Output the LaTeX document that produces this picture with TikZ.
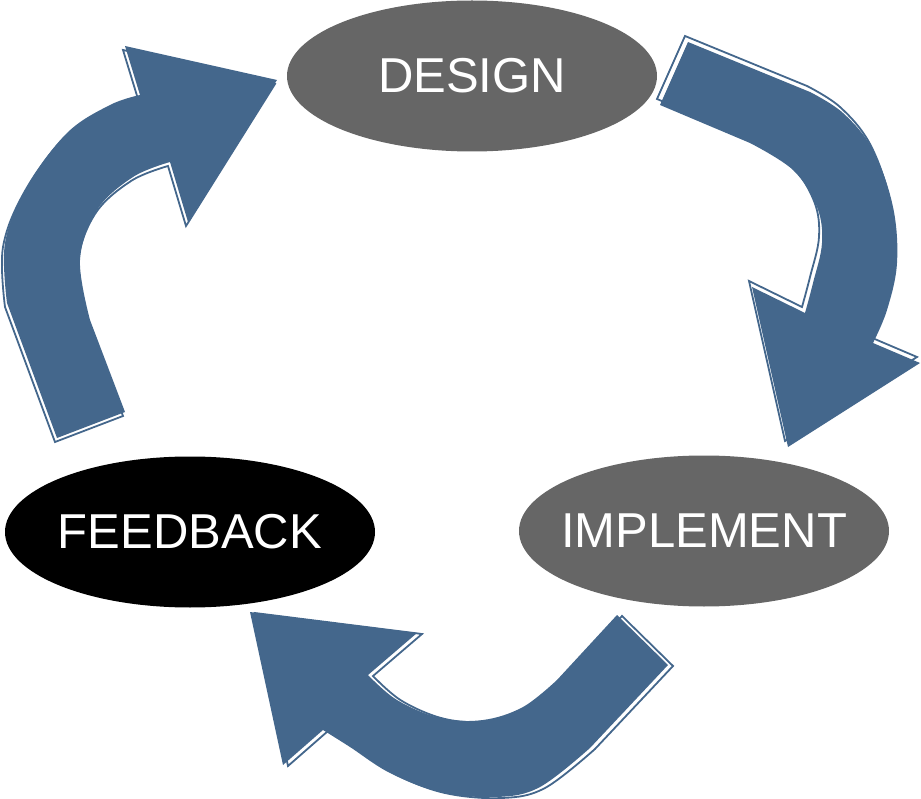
\documentclass[tikz,border=0pt]{standalone}
\usepackage{fontspec}
\setmainfont{Liberation Sans}
\usepackage{xcolor}
\usetikzlibrary{shapes.geometric}
\definecolor{ellgray}{HTML}{666666}
\definecolor{cycleblue}{HTML}{44678C}

\begin{document}
\begin{tikzpicture}[x=1pt, y=-1pt]
\tikzset{
  stage/.style={ellipse, fill=ellgray, text=white, inner sep=0pt,
    minimum width=370pt, minimum height=151pt,
    font=\fontsize{49}{55}\selectfont},
  arrowfill/.style={fill=cycleblue},
  arrowline/.style={draw=cycleblue, line width=1.8pt, line join=miter}
}
\newcommand{\stagetext}[1]{\makebox[0pt]{#1}}
\useasboundingbox (0,0) rectangle (921,799);
\def\leftpath{(57,438) -- plot[smooth, tension=0.6] coordinates {(7,303) (5,243) (27,187) (67,133) (110,105) (140,95)} -- (125,46) -- (277,80) -- (188,222) -- plot[smooth, tension=0.6] coordinates {(170,162) (133,177) (97,210) (80,260) (90,320)} -- (125,412) -- cycle}
\def\rightpath{(688,42) -- (660,105) -- plot[smooth, tension=0.6] coordinates {(750,143) (793,170) (817,207) (822,243) (813,283) (805,313)} -- (752,287) -- (788,447) -- (920,363) -- plot[smooth, tension=0.6] coordinates {(873,343) (887,310) (897,263) (893,207) (873,150) (843,113) (810,92)} -- cycle}
\def\bottompath{(617,615) -- (668,665) -- plot[smooth, tension=0.6] coordinates {(590,748) (540,787) (497,797) (440,792) (390,773) (350,747) (323,730)} -- (283,765) -- (250,612) -- (417,633) -- plot[smooth, tension=0.6] coordinates {(368,675) (397,700) (440,718) (483,720) (523,707) (557,680)} -- cycle}
\draw[arrowline, shift={(-2,4)}] \leftpath;
\fill[arrowfill] \leftpath;
\draw[arrowline, shift={(-3,-6)}] \rightpath;
\fill[arrowfill] \rightpath;
\draw[arrowline, shift={(5,1)}] \bottompath;
\fill[arrowfill] \bottompath;
\node[stage] (design) at (472,76) {\stagetext{DESIGN}};
\node[stage] (implement) at (704,531) {\stagetext{IMPLEMENT}};
\node[stage, fill=black] (feedback) at (190,532) {\stagetext{FEEDBACK}};
\end{tikzpicture}
\end{document}
